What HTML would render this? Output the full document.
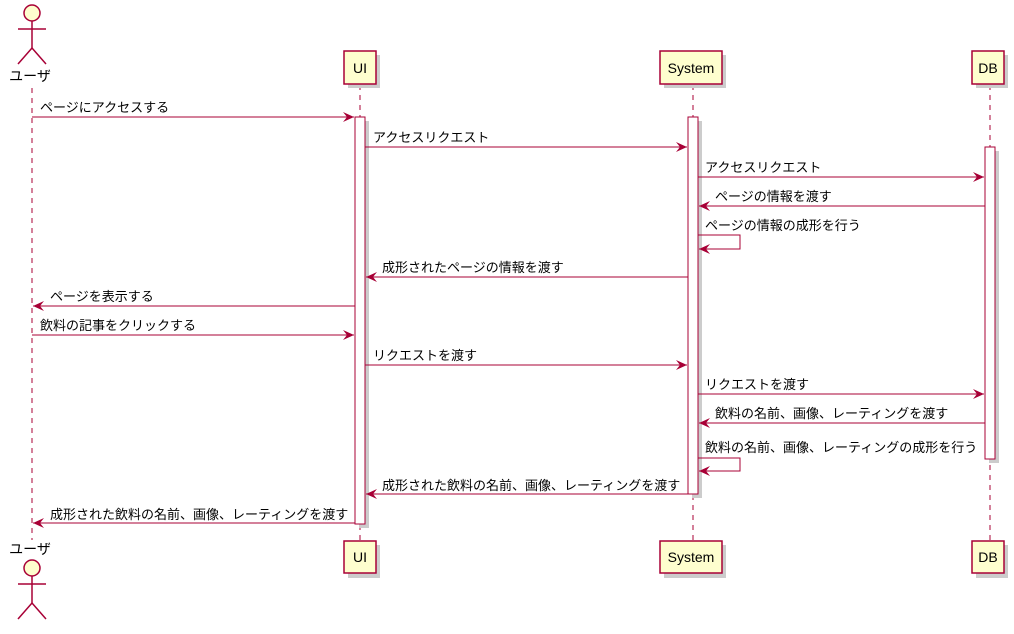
<!DOCTYPE html>
<html><head><meta charset="utf-8"><style>
body{margin:0;background:#fff}
svg text{font-family:"Liberation Sans","Noto Sans CJK JP",sans-serif;font-size:13px;fill:#000}
</style></head><body>
<svg width="1014" height="629" xmlns="http://www.w3.org/2000/svg">
<defs>
<marker id="a" markerWidth="12" markerHeight="10" refX="11" refY="5" orient="auto" markerUnits="userSpaceOnUse"><path d="M0,0 L11,5 L0,10 L4,5 Z" fill="#A80036"/></marker>
</defs>
<g stroke="#A80036" stroke-dasharray="5,5" stroke-width="1">
<line x1="32" y1="88" x2="32" y2="540"/>
<line x1="360" y1="85" x2="360" y2="540"/>
<line x1="693" y1="85" x2="693" y2="540"/>
<line x1="990" y1="85" x2="990" y2="540"/>
</g>
<!-- shadows -->
<g fill="#ccc">
<rect x="348" y="55" width="32" height="33"/><rect x="664" y="55" width="62" height="33"/><rect x="976" y="55" width="32" height="33"/>
<rect x="348" y="545" width="32" height="33"/><rect x="664" y="545" width="62" height="33"/><rect x="976" y="545" width="32" height="33"/>
<rect x="359" y="121" width="10" height="407"/><rect x="692" y="121" width="10" height="377"/><rect x="989" y="151" width="10" height="312"/>
</g>
<g fill="#FEFECE" stroke="#A80036" stroke-width="1.5">
<rect x="344" y="51" width="32" height="33"/><rect x="660" y="51" width="62" height="33"/><rect x="972" y="51" width="32" height="33"/>
<rect x="344" y="541" width="32" height="32"/><rect x="660" y="541" width="62" height="32"/><rect x="972" y="541" width="32" height="32"/>
</g>
<g fill="#fff" stroke="#A80036" stroke-width="1">
<rect x="355" y="117" width="10" height="407"/><rect x="688" y="117" width="10" height="377"/><rect x="985" y="147" width="10" height="312"/>
</g>
<g font-size="14">
<text x="360" y="73" text-anchor="middle" style="font-size:14px">UI</text>
<text x="691" y="73" text-anchor="middle" style="font-size:14px">System</text>
<text x="988" y="73" text-anchor="middle" style="font-size:14px">DB</text>
<text x="360" y="562" text-anchor="middle" style="font-size:14px">UI</text>
<text x="691" y="562" text-anchor="middle" style="font-size:14px">System</text>
<text x="988" y="562" text-anchor="middle" style="font-size:14px">DB</text>
<text x="30" y="81" text-anchor="middle" style="font-size:14px">ユーザ</text>
<text x="30" y="554" text-anchor="middle" style="font-size:14px">ユーザ</text>
</g>
<!-- actors -->
<g stroke="#A80036" stroke-width="1.5" fill="none">
<circle cx="32" cy="13" r="8" fill="#FEFECE"/>
<line x1="32" y1="21" x2="32" y2="48"/><line x1="18" y1="29" x2="46" y2="29"/>
<polyline points="18,64 32,48 46,64"/>
<circle cx="32" cy="568" r="8" fill="#FEFECE"/>
<line x1="32" y1="576" x2="32" y2="603"/><line x1="18" y1="584" x2="46" y2="584"/>
<polyline points="18,619 32,603 46,619"/>
</g>
<!-- messages -->
<g stroke="#A80036" stroke-width="1" fill="none" marker-end="url(#a)">
<line x1="32" y1="117" x2="354" y2="117"/>
<line x1="365" y1="147" x2="687" y2="147"/>
<line x1="698" y1="177" x2="984" y2="177"/>
<line x1="985" y1="206" x2="699" y2="206"/>
<polyline points="698,235 740,235 740,249 699,249"/>
<line x1="688" y1="277" x2="366" y2="277"/>
<line x1="355" y1="306" x2="33" y2="306"/>
<line x1="32" y1="335" x2="354" y2="335"/>
<line x1="365" y1="365" x2="687" y2="365"/>
<line x1="698" y1="394" x2="984" y2="394"/>
<line x1="985" y1="423" x2="699" y2="423"/>
<polyline points="698,458 740,458 740,471 699,471"/>
<line x1="688" y1="494" x2="366" y2="494"/>
<line x1="355" y1="523" x2="33" y2="523"/>
</g>
<text x="40" y="112">ページにアクセスする</text>
<text x="373" y="142">アクセスリクエスト</text>
<text x="705" y="172">アクセスリクエスト</text>
<text x="715" y="201">ページの情報を渡す</text>
<text x="705" y="230">ページの情報の成形を行う</text>
<text x="382" y="272">成形されたページの情報を渡す</text>
<text x="50" y="301">ページを表示する</text>
<text x="40" y="330">飲料の記事をクリックする</text>
<text x="373" y="360">リクエストを渡す</text>
<text x="705" y="389">リクエストを渡す</text>
<text x="715" y="418">飲料の名前、画像、レーティングを渡す</text>
<text x="705" y="452">飲料の名前、画像、レーティングの成形を行う</text>
<text x="382" y="490">成形された飲料の名前、画像、レーティングを渡す</text>
<text x="50" y="519">成形された飲料の名前、画像、レーティングを渡す</text>
</svg>
</body></html>
